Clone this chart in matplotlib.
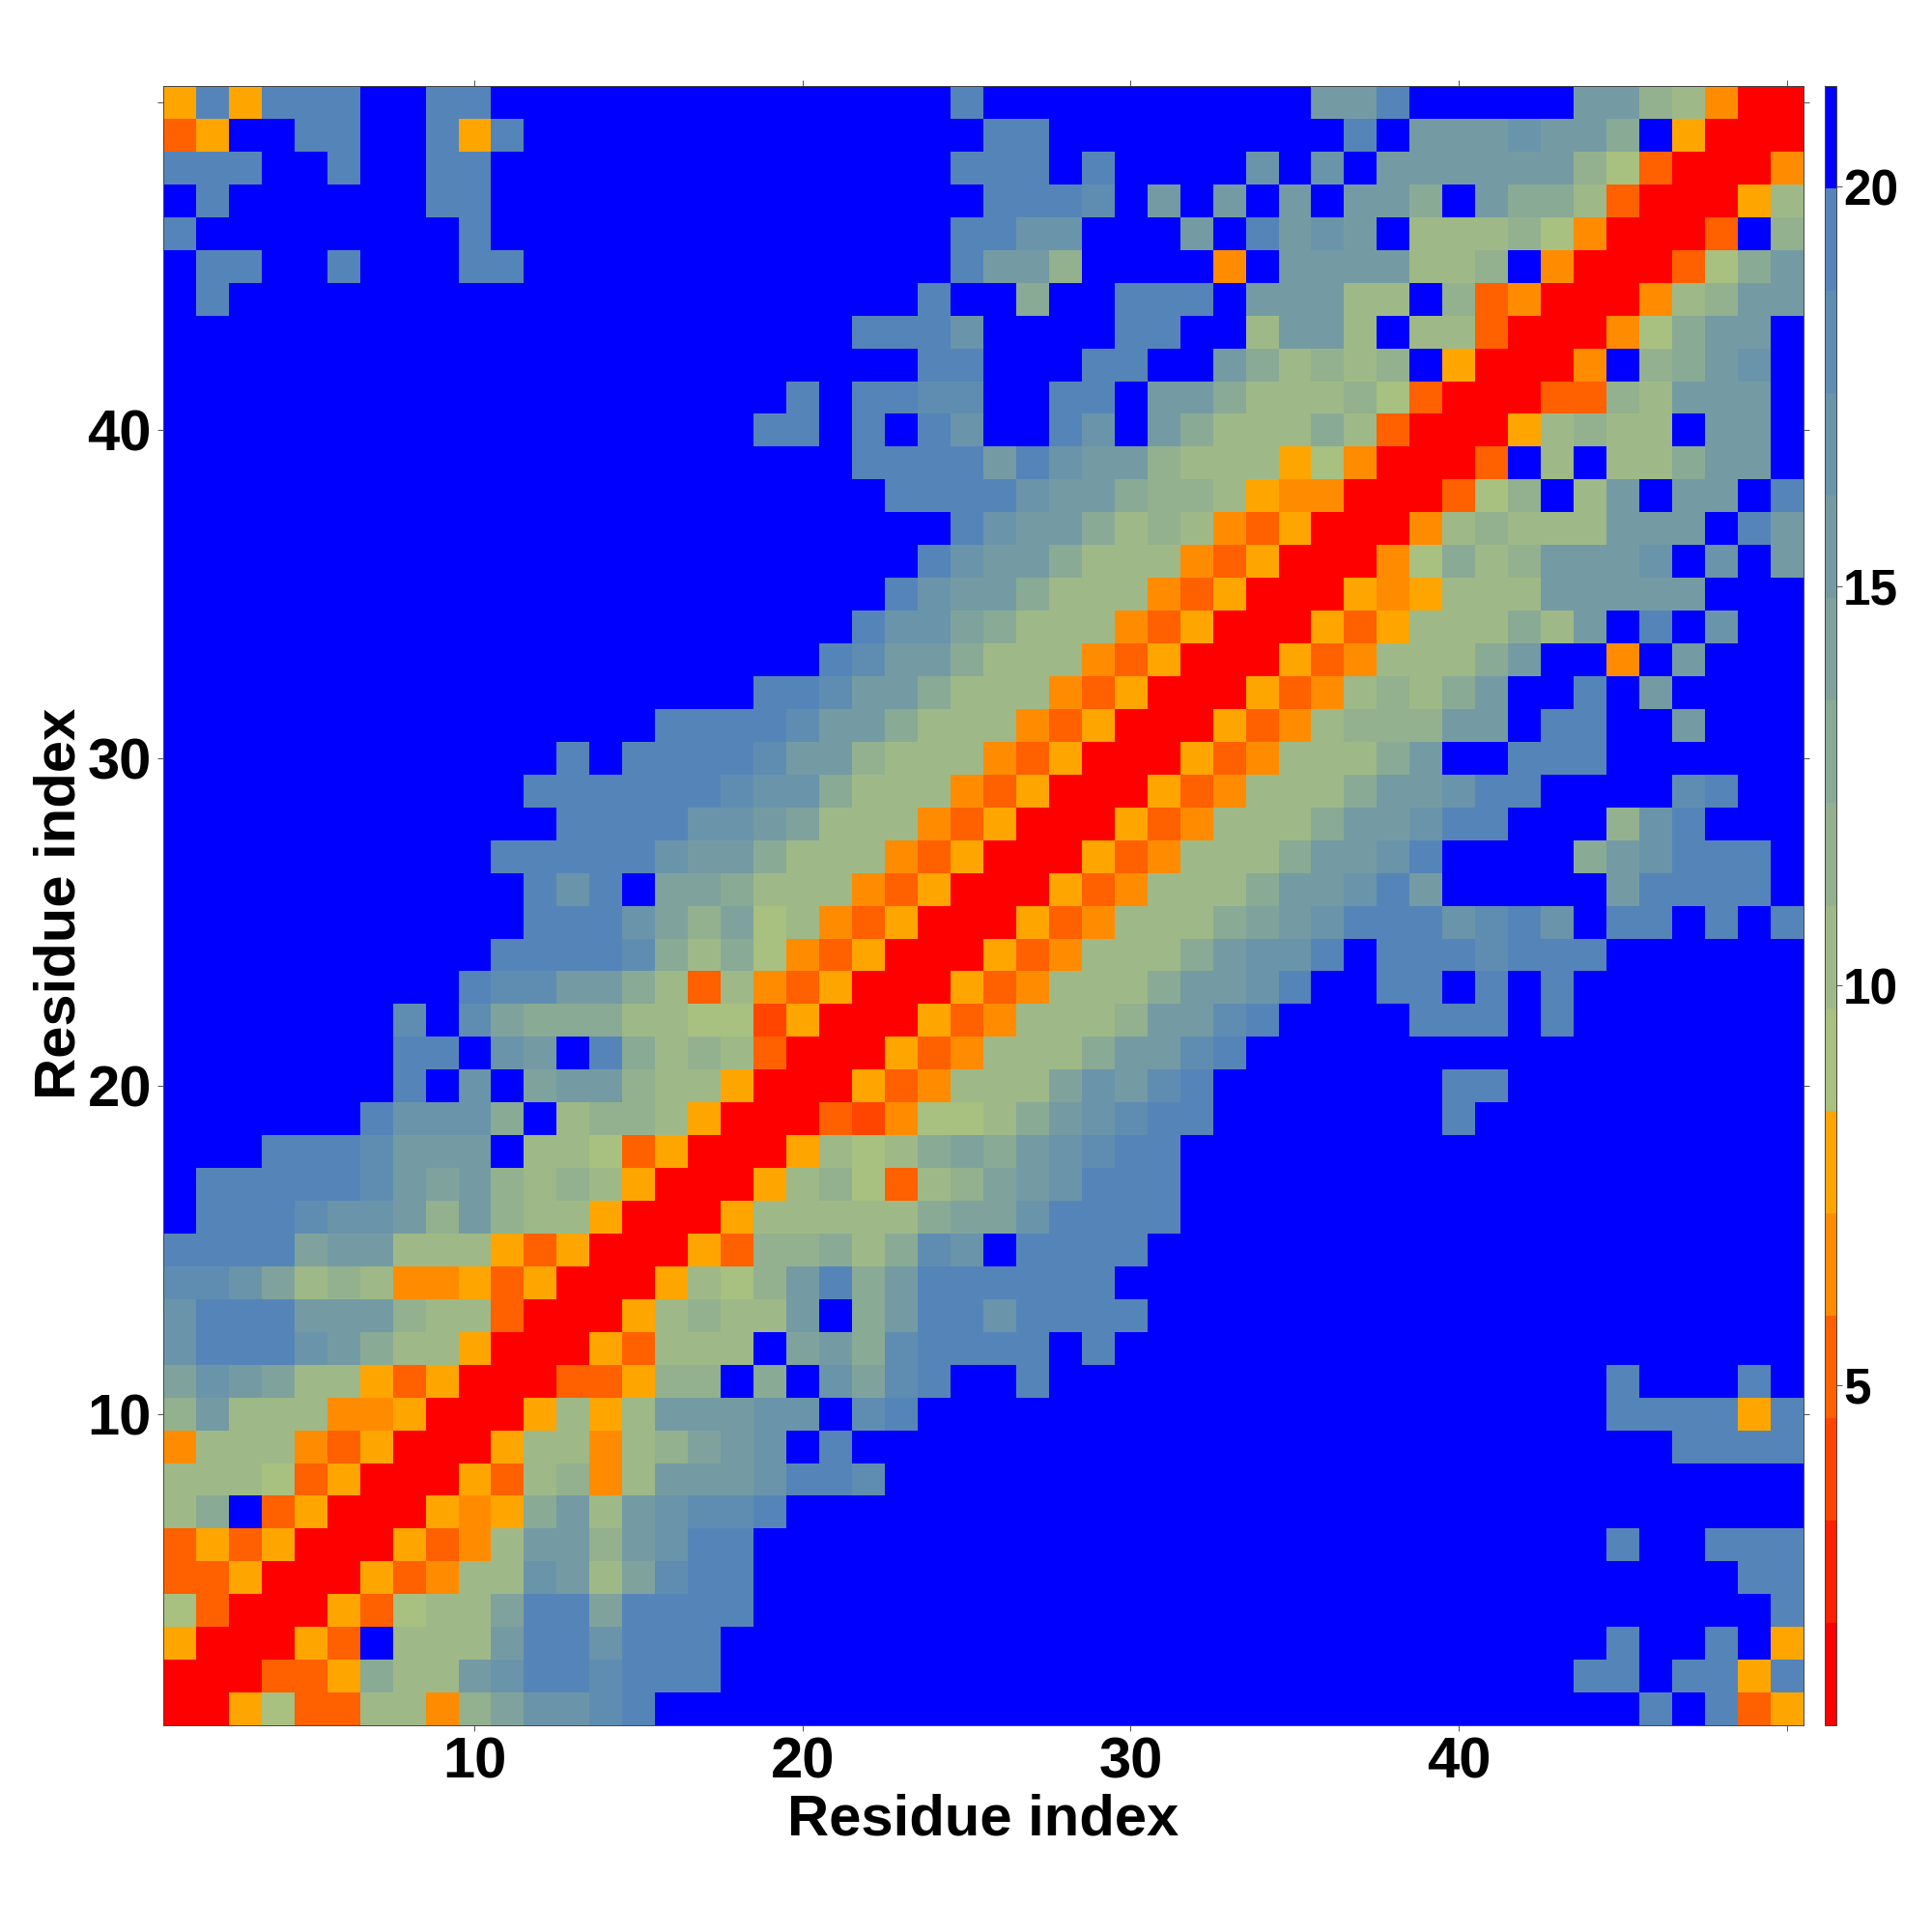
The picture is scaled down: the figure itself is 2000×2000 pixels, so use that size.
import matplotlib
matplotlib.use("Agg")
import matplotlib.pyplot as plt
import numpy as np
from matplotlib.colors import ListedColormap

# colour levels, lowest distance first
level_colors = ["#ff0000", "#ff2000", "#ff4500", "#ff6000", "#ff8c00", "#ffa500",
                "#a8c080", "#9eb987", "#93b18e", "#89aa95", "#7fa39c", "#749ba3",
                "#6a94aa", "#5f8db1", "#5585b8", "#0000ff"]
value_min = 0.744
value_max = 21.26

# one string per residue (y = 1..50), one hex digit per x <= y, digit = colour level
lower_rows = [
    "0",
    "00",
    "500",
    "6300",
    "33500",
    "353500",
    "79f3500",
    "77763500",
    "477743500",
    "8b77744500",
    "acba7753500",
    "ceeecb977500",
    "ceeebbb877300",
    "ddca7874453500",
    "eeeeabb77753500",
    "feeedccb8b877500",
    "feeeeedbab8787500",
    "fffeeedbbbf7763500",
    "ffffffeccc9f7887500",
    "fffffffefcfabb877500",
    "fffffffeefcbfe9787300",
    "fffffffdfda99977662500",
    "f" * 9 + "eddbb973743500",
    "f" * 10 + "eeeed979643500",
    "f" * 11 + "eeeca8a6743500",
    "f" * 11 + "ecefaa977743500",
    "f" * 10 + "eeeeecbb977743500",
    "f" * 12 + "eeeeccba77743500",
    "f" * 11 + "eeeeeedcc977743500",
    "f" * 12 + "efeeeedbb877743500",
    "f" * 15 + "eeeedbb977743500",
    "f" * 18 + "eedbb977743500",
    "f" * 20 + "edbb977743500",
    "f" * 21 + "ecca977743500",
    "f" * 22 + "ecbb977743500",
    "f" * 23 + "ecbb977743500",
    "f" * 24 + "ecbb978743500",
    "f" * 22 + "eeeecbb98875" + "4400",
    "f" * 21 + "eeeebecbb877756400",
    "f" * 18 + "eefefecffecfb977797300",
    "f" * 19 + "efeeddffeefbb977786300",
    "f" * 23 + "eefffeeffb97878f500",
    "f" * 21 + "eeecffffeeff7bb7f77300",
    "fe" + "f" * 21 + "eff9ffeeefbbb77f83400",
    "feeffefffee" + "f" * 13 + "ebb8ffff4fbbbb778f400",
    "e" + "f" * 8 + "e" + "f" * 14 + "eeccfffbfebcbf77786400",
    "fe" + "f" * 6 + "ee" + "f" * 15 + "eeedfbfbfbfbb9fb997300",
    "eeeffeffee" + "f" * 14 + "eeefeffffcfcfbbbbbb86300",
    "35ffeeffe5e" + "f" * 14 + "ee" + "f" * 9 + "efbbbcbb9f500",
    "5e5eeeffee" + "f" * 14 + "e" + "f" * 10 + "bbefffffbb87400",
]
x_ticks = [10, 20, 30, 40, 50]
x_tick_labels = ["10", "20", "30", "40", ""]
bar_ticks = [5, 10, 15, 20]

n = len(lower_rows)
levels = np.zeros((n, n), dtype=int)
for i, row in enumerate(lower_rows):
    for j, c in enumerate(row):
        levels[i, j] = int(c, 16)
        levels[j, i] = int(c, 16)

step = (value_max - value_min) / len(level_colors)
distance = value_min + (levels + 0.5) * step

plt.rcParams["font.family"] = ["Liberation Sans", "DejaVu Sans"]
plt.rcParams["font.weight"] = "bold"

fig = plt.figure(figsize=(20, 20), dpi=100)
ax = fig.add_axes([168.8 / 2000, 214 / 2000, 1697.7 / 2000, 1697 / 2000])
cax = fig.add_axes([1889 / 2000, 214 / 2000, 12 / 2000, 1697 / 2000])

im = ax.imshow(distance, origin="lower", aspect="auto", interpolation="nearest",
               extent=(0.5, n + 0.5, 0.5, n + 0.5),
               cmap=ListedColormap(level_colors), vmin=value_min, vmax=value_max)

ax.set_xticks(x_ticks)
ax.set_xticklabels(x_tick_labels)
ax.set_yticks(x_ticks)
ax.set_yticklabels(x_tick_labels)
ax.tick_params(axis="both", direction="out", length=4.5, width=0.6, color="#333333",
               top=True, right=True, labelsize=43, pad=4)
for s in ax.spines.values():
    s.set_linewidth(0.7)
    s.set_color("#444444")

fig.text(1018 / 2000, 1 - 1884 / 2000, "Residue index", ha="center", va="center",
         fontsize=43, fontweight="bold")
fig.text(62 / 2000, 1 - 935 / 2000, "Residue index", ha="center", va="center",
         rotation=90, fontsize=43, fontweight="bold")

cb = fig.colorbar(im, cax=cax, ticks=bar_ticks)
cb.ax.tick_params(direction="out", length=4, width=0.6, color="#333333", labelsize=37, pad=1)
cb.outline.set_linewidth(0.7)
cb.outline.set_edgecolor("#444444")

fig.savefig("out.png", dpi=100)
